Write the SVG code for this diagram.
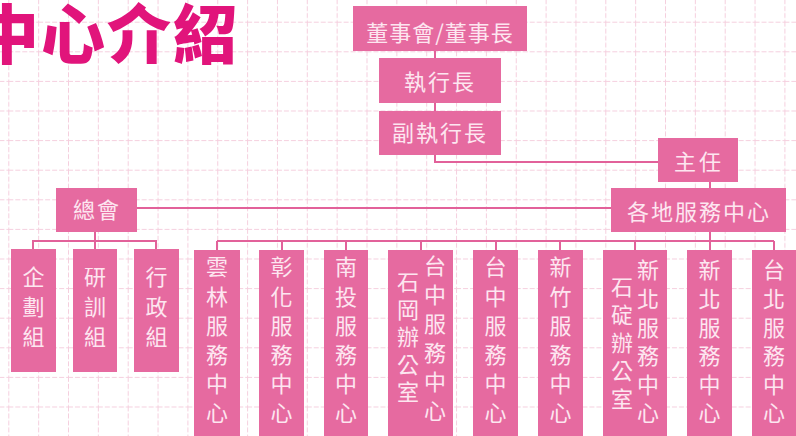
<svg xmlns="http://www.w3.org/2000/svg" width="796" height="436" viewBox="0 0 796 436">
<defs>
<pattern id="grid" patternUnits="userSpaceOnUse" x="8.3" y="21.7" width="29.85" height="29.6">
<path d="M0.5 0 V29.6 M0 0.5 H29.85" fill="none" stroke="#f5cfde" stroke-width="1" stroke-dasharray="5 2"/>
</pattern>
</defs>
<style>
.box{fill:#e66aa0;}
.t{font-family:"Noto Sans CJK TC","Noto Sans CJK SC",sans-serif;fill:#fde6f0;font-size:22px;text-anchor:middle;}
.v{font-family:"Noto Sans CJK TC","Noto Sans CJK SC",sans-serif;fill:#fde6f0;font-size:22px;writing-mode:vertical-rl;text-anchor:start;}
.c{stroke:#e2619a;stroke-width:2;fill:none;}
.title{font-family:"Noto Sans CJK TC","Noto Sans CJK SC",sans-serif;font-weight:900;font-size:64px;fill:#e1147b;letter-spacing:2px;}
</style>
<rect width="796" height="436" fill="#ffffff"/>
<rect width="796" height="436" fill="url(#grid)"/>
<text class="title" x="-25" y="58">中心介紹</text>
<g id="connectors">
<path class="c" d="M435 51 V162 H658"/>
<path class="c" d="M710 182 V188"/>
<path class="c" d="M137 208 H611"/>
<path class="c" d="M95 232 V241 M33 249 V241 H156 V249 M95 241 V249"/>
<path class="c" d="M710 232 V241 M217 241 H774 M217 241 V250 M282 241 V250 M346 241 V250 M421 241 V250 M496 241 V250 M560 241 V250 M635 241 V250 M710 241 V250 M774 241 V250"/>
</g>
<g id="board"><rect class="box" x="353" y="6" width="174" height="45"/><text class="t" x="440" y="41" letter-spacing="1">董事會/董事長</text></g>
<g id="ceo"><rect class="box" x="379" y="58" width="122" height="45"/><text class="t" x="440" y="90" letter-spacing="2">執行長</text></g>
<g id="vice-ceo"><rect class="box" x="379" y="111" width="122" height="44"/><text class="t" x="440" y="141" letter-spacing="2">副執行長</text></g>
<g id="director"><rect class="box" x="658" y="138" width="80" height="44"/><text class="t" x="699" y="170" letter-spacing="3">主任</text></g>
<g id="centers"><rect class="box" x="611" y="188" width="175" height="44"/><text class="t" x="699" y="220" letter-spacing="2">各地服務中心</text></g>
<g id="hq"><rect class="box" x="56" y="188" width="81" height="44"/><text class="t" x="97" y="218" letter-spacing="2">總會</text></g>
<g id="planning"><rect class="box" x="11" y="249" width="45" height="123"/><text class="v" x="33.5" y="266" letter-spacing="8">企劃組</text></g>
<g id="training"><rect class="box" x="73" y="249" width="44" height="123"/><text class="v" x="95" y="266" letter-spacing="8">研訓組</text></g>
<g id="admin"><rect class="box" x="134" y="249" width="45" height="123"/><text class="v" x="156.5" y="266" letter-spacing="8">行政組</text></g>
<g id="yunlin"><rect class="box" x="194" y="250" width="46" height="195"/><text class="v" x="217" y="256" letter-spacing="7.2">雲林服務中心</text></g>
<g id="changhua"><rect class="box" x="259" y="250" width="45" height="195"/><text class="v" x="281.5" y="256" letter-spacing="7.2">彰化服務中心</text></g>
<g id="nantou"><rect class="box" x="324" y="250" width="44" height="195"/><text class="v" x="346" y="256" letter-spacing="7.2">南投服務中心</text></g>
<g id="taichung-shigang"><rect class="box" x="388" y="250" width="65" height="195"/><text class="v" x="435" y="255" letter-spacing="7">台中服務中心</text><text class="v" x="408" y="271" letter-spacing="5.5">石岡辦公室</text></g>
<g id="taichung"><rect class="box" x="473" y="250" width="45" height="195"/><text class="v" x="495.5" y="256" letter-spacing="7.2">台中服務中心</text></g>
<g id="hsinchu"><rect class="box" x="538" y="250" width="45" height="195"/><text class="v" x="560.5" y="256" letter-spacing="7.2">新竹服務中心</text></g>
<g id="newtaipei-shiding"><rect class="box" x="603" y="250" width="64" height="195"/><text class="v" x="648" y="259" letter-spacing="6.6">新北服務中心</text><text class="v" x="622" y="276" letter-spacing="6">石碇辦公室</text></g>
<g id="newtaipei"><rect class="box" x="687" y="250" width="45" height="195"/><text class="v" x="709.5" y="259" letter-spacing="6.6">新北服務中心</text></g>
<g id="taipei"><rect class="box" x="752" y="250" width="46" height="195"/><text class="v" x="774" y="259" letter-spacing="6.6">台北服務中心</text></g>
</svg>
